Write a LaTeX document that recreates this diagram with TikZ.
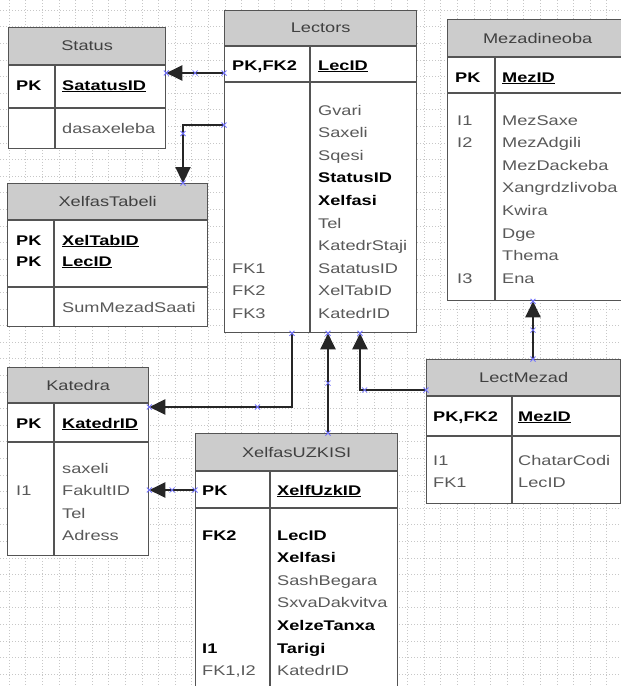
\documentclass[tikz,border=0pt]{standalone}
\usepackage{fontspec}
\setmainfont{Liberation Sans}[FakeStretch=1.3]
\usetikzlibrary{arrows.meta,decorations.markings,calc}
\definecolor{fldgray}{gray}{0.35}
\definecolor{hdrgray}{gray}{0.8}
\definecolor{linegray}{gray}{0.33}
\newcommand{\erfont}{\fontsize{14}{16}\selectfont}
\newcommand{\kb}[1]{{\color{black}\bfseries #1}}
\newcommand{\xcross}{\draw[-,blue!55,line width=0.8pt] (-2.5,-2.5) -- (2.5,2.5) (-2.5,2.5) -- (2.5,-2.5);}
% header line, key line and column line of a table
\newcommand{\tabrules}[4]{%
  \draw[rule] ([yshift=-#2]#1.north west) -- ([yshift=-#2]#1.north east)
              ([yshift=-#3]#1.north west) -- ([yshift=-#3]#1.north east)
              ([xshift=#4,yshift=-#2]#1.north west) -- ([xshift=#4]#1.south west);}
\tikzset{
    tbl/.style={draw=linegray, line width=1.3pt, fill=white, anchor=north west, inner sep=0pt,
        path picture={\fill[hdrgray] (path picture bounding box.north west) rectangle ([yshift=-#1]path picture bounding box.north east);}},
    rule/.style={draw=linegray, line width=1.3pt},
    title/.style={text=black!75, font=\erfont, inner sep=0pt},
    fld/.style={anchor=base west, inner sep=0pt, text=fldgray, font=\erfont},
    key/.style={fld, text=black, font=\erfont\bfseries},
    gridln/.style={black!22, line width=0.5pt, dash pattern=on 1pt off 2pt},
    fk/.style={-{Triangle[length=16pt, width=15pt]}, line width=2.2pt, draw=black!85,
        postaction={decorate}, decoration={markings,
            mark=at position 0 with {\xcross},
            mark=at position 0.5 with {\xcross},
            mark=at position 1 with {\xcross}}}
}
\begin{document}
\begin{tikzpicture}[x=1pt, y=-1pt]
    \clip (0,0) rectangle (621,686);
    \fill[white] (0,0) rectangle (621,686);
    \foreach \gx in {9,25.6,...,621} \draw[gridln] (\gx,0) -- (\gx,686);
    \foreach \gy in {10,26.6,...,686} \draw[gridln] (0,\gy) -- (621,\gy);

    % Status
    \node[tbl=38, minimum width=157pt, minimum height=121pt] (status) at (8,27) {};
    \tabrules{status}{38}{81}{47}
    \node[title] (status-t) at ([yshift=-19]status.north) {Status};
    \node[key] (status-pk) at (16,90) {PK};
    \node[key] (status-id) at (62,90) {\underline{SatatusID}};
    \node[fld] (status-f1) at (62,133) {dasaxeleba};

    % XelfasTabeli
    \node[tbl=37, minimum width=200pt, minimum height=143pt] (tabeli) at (7,183) {};
    \tabrules{tabeli}{37}{104}{47}
    \node[title] (tabeli-t) at ([yshift=-18.5]tabeli.north) {XelfasTabeli};
    \node[key] (tabeli-pk1) at (16,245) {PK};
    \node[key] (tabeli-pk2) at (16,266) {PK};
    \node[key] (tabeli-id1) at (62,245) {\underline{XelTabID}};
    \node[key] (tabeli-id2) at (62,266) {\underline{LecID}};
    \node[fld] (tabeli-f1) at (62,312) {SumMezadSaati};

    % Lectors
    \node[tbl=36, minimum width=192pt, minimum height=322pt] (lectors) at (224,10) {};
    \tabrules{lectors}{36}{72}{86}
    \node[title] (lectors-t) at ([yshift=-18]lectors.north) {Lectors};
    \node[key] (lectors-pk) at (232,70) {PK,FK2};
    \node[key] (lectors-id) at (318,70) {\underline{LecID}};
    \foreach \f [count=\i from 0] in {Gvari,Saxeli,Sqesi,\kb{StatusID},\kb{Xelfasi},Tel,KatedrStaji,SatatusID,XelTabID,KatedrID}
        \node[fld] (lectors-f\i) at (318,115+22.6*\i) {\f};
    \foreach \k [count=\i from 7] in {FK1,FK2,FK3}
        \node[fld] (lectors-k\i) at (232,115+22.6*\i) {\k};

    % Mezadineoba
    \node[tbl=38, minimum width=180pt, minimum height=281pt] (mezad) at (447,19) {};
    \tabrules{mezad}{38}{74}{48}
    \node[title] (mezad-t) at ([yshift=-19]mezad.north) {Mezadineoba};
    \node[key] (mezad-pk) at (455,82) {PK};
    \node[key] (mezad-id) at (502,82) {\underline{MezID}};
    \foreach \f [count=\i from 0] in {MezSaxe,MezAdgili,MezDackeba,Xangrdzlivoba,Kwira,Dge,Thema,Ena}
        \node[fld] (mezad-f\i) at (502,125+22.6*\i) {\f};
    \node[fld] (mezad-k1) at (457,125) {I1};
    \node[fld] (mezad-k2) at (457,147.6) {I2};
    \node[fld] (mezad-k3) at (457,283.2) {I3};

    % Katedra
    \node[tbl=36, minimum width=141pt, minimum height=188pt] (katedra) at (7,367) {};
    \tabrules{katedra}{36}{75}{47}
    \node[title] (katedra-t) at ([yshift=-18]katedra.north) {Katedra};
    \node[key] (katedra-pk) at (16,428) {PK};
    \node[key] (katedra-id) at (62,428) {\underline{KatedrID}};
    \foreach \f [count=\i from 0] in {saxeli,FakultID,Tel,Adress}
        \node[fld] (katedra-f\i) at (62,473+22.6*\i) {\f};
    \node[fld] (katedra-k1) at (16,495.6) {I1};

    % XelfasUZKISI
    \node[tbl=38, minimum width=202pt, minimum height=275pt] (uzkisi) at (195,433) {};
    \tabrules{uzkisi}{38}{75}{75}
    \node[title] (uzkisi-t) at ([yshift=-19]uzkisi.north) {XelfasUZKISI};
    \node[key] (uzkisi-pk) at (202,495) {PK};
    \node[key] (uzkisi-id) at (277,495) {\underline{XelfUzkID}};
    \foreach \f [count=\i from 0] in {\kb{LecID},\kb{Xelfasi},SashBegara,SxvaDakvitva,\kb{XelzeTanxa},\kb{Tarigi},KatedrID}
        \node[fld] (uzkisi-f\i) at (277,540+22.6*\i) {\f};
    \node[key] (uzkisi-k1) at (202,540) {FK2};
    \node[key] (uzkisi-k2) at (202,653) {I1};
    \node[fld] (uzkisi-k3) at (202,675.6) {FK1,I2};

    % LectMezad
    \node[tbl=37, minimum width=194pt, minimum height=144pt] (lectmezad) at (426,359) {};
    \tabrules{lectmezad}{37}{77}{86}
    \node[title] (lectmezad-t) at ([yshift=-18.5]lectmezad.north) {LectMezad};
    \node[key] (lectmezad-pk) at (433,421) {PK,FK2};
    \node[key] (lectmezad-id) at (518,421) {\underline{MezID}};
    \node[fld] (lectmezad-k1) at (433,465) {I1};
    \node[fld] (lectmezad-k2) at (433,487.6) {FK1};
    \node[fld] (lectmezad-f1) at (518,465) {ChatarCodi};
    \node[fld] (lectmezad-f2) at (518,487.6) {LecID};

    % relations
    \coordinate (c1) at ([yshift=-63]lectors.north west);
    \draw[fk] (c1) -- (c1 -| status.east);
    \coordinate (c2) at ([yshift=-115]lectors.north west);
    \coordinate (c2t) at ([xshift=176]tabeli.north west);
    \draw[fk] (c2) -| (c2t);
    \coordinate (c3) at ([xshift=68]lectors.south west);
    \coordinate (c3t) at ([yshift=-40]katedra.north east);
    \draw[fk] (c3) |- (c3t);
    \coordinate (c4) at ([xshift=133]uzkisi.north west);
    \draw[fk] (c4) -- (c4 |- lectors.south);
    \coordinate (c5) at ([yshift=-31]lectmezad.north west);
    \coordinate (c5t) at ([xshift=136]lectors.south west);
    \draw[fk] (c5) -| (c5t);
    \coordinate (c6) at ([xshift=107]lectmezad.north west);
    \draw[fk] (c6) -- (c6 |- mezad.south);
    \coordinate (c7) at ([yshift=-57]uzkisi.north west);
    \draw[fk] (c7) -- (c7 -| katedra.east);
\end{tikzpicture}
\end{document}
